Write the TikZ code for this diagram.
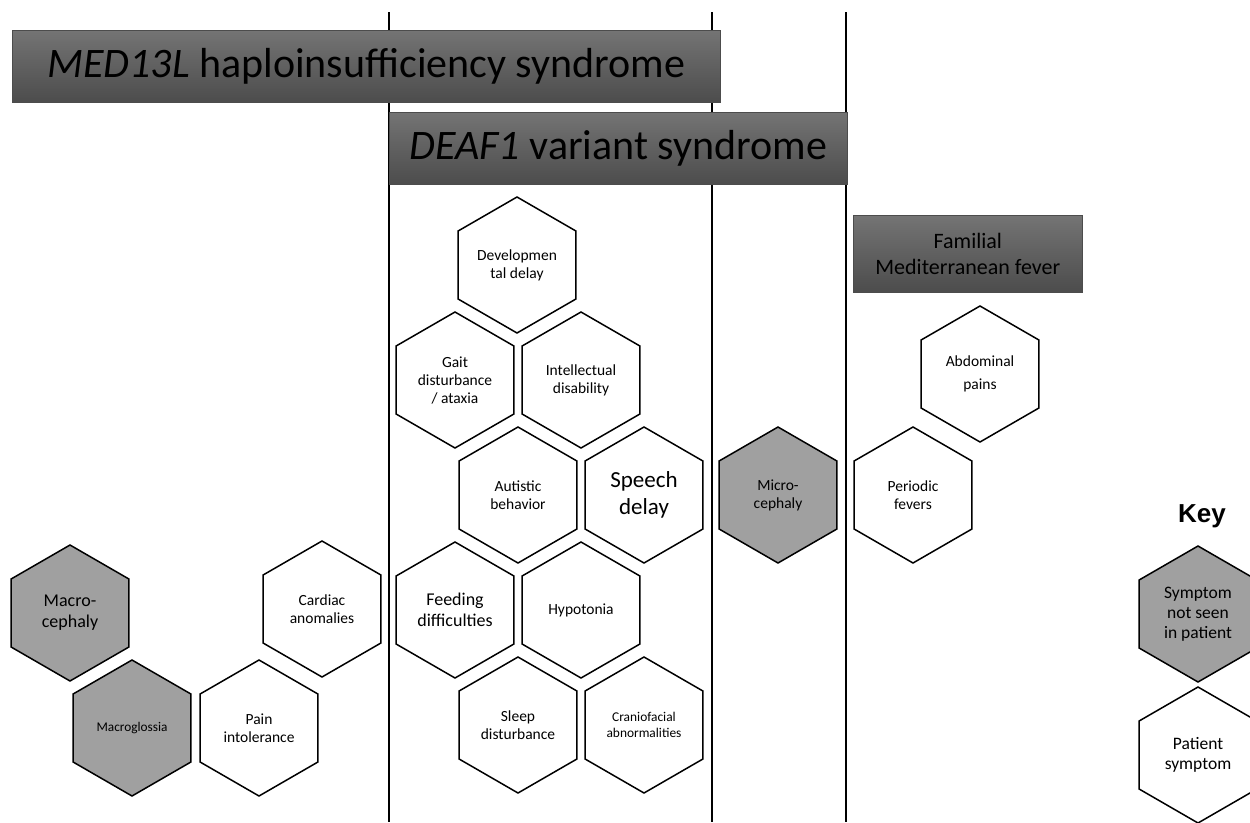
\documentclass[tikz,border=0pt]{standalone}
\usepackage{fontspec}
\setmainfont{Carlito}
\newfontfamily\keyfont{Liberation Sans}
\usetikzlibrary{shapes.geometric}
\definecolor{hexgray}{RGB}{160,160,160}
\definecolor{boxtop}{RGB}{116,116,116}
\definecolor{boxbot}{RGB}{76,76,76}
\tikzset{
  hexa/.style={draw=black, line width=1.5pt, regular polygon, regular polygon sides=6,
    regular polygon rotate=30, minimum size=136pt, inner sep=0pt, align=center,
    font=\fontsize{15.5}{18}\selectfont},
  hexgrey/.style={hexa, fill=hexgray},
  hexwhite/.style={hexa, fill=white},
  header/.style={draw=black!70, line width=0.6pt, top color=boxtop, bottom color=boxbot,
    inner sep=0pt, align=center, anchor=north west},
  divider/.style={line width=2pt, black}
}
\begin{document}
\begin{tikzpicture}[x=1pt,y=-1pt]
\useasboundingbox (0,0) rectangle (1250,822);
\fill[white] (0,0) rectangle (1250,822);
% dividers
\coordinate (d1t) at (388.5,12); \coordinate (d1b) at (388.5,822);
\coordinate (d2t) at (712,12);   \coordinate (d2b) at (712,822);
\coordinate (d3t) at (845.5,12); \coordinate (d3b) at (845.5,822);
\draw[divider] (d1t) -- (d1b);
\draw[divider] (d2t) -- (d2b);
\draw[divider] (d3t) -- (d3b);
% headers
\node[header, minimum width=708pt, minimum height=72pt, font=\fontsize{42}{48}\selectfont]
  (med) at (12,30) {\textit{MED13L} haploinsufficiency syndrome};
\node[header, minimum width=458pt, minimum height=72pt, font=\fontsize{42}{48}\selectfont]
  (deaf) at (389,112) {\textit{DEAF1} variant syndrome};
\node[header, minimum width=229pt, minimum height=77pt, font=\fontsize{22}{26}\selectfont]
  (fmf) at (853,215) {Familial\\Mediterranean fever};
% DEAF1 cluster
\node[hexwhite] (dev) at (517,265) {Developmen\\tal delay};
\node[hexwhite] (gait) at (455,380) {Gait\\disturbance\\/ ataxia};
\node[hexwhite] (intel) at (581,380) {Intellectual\\disability};
\node[hexwhite] (aut) at (518,495) {Autistic\\behavior};
\node[hexwhite, font=\fontsize{23}{27}\selectfont] (speech) at (644,495) {Speech\\delay};
\node[hexwhite, font=\fontsize{18}{21}\selectfont] (feed) at (455,610) {Feeding\\difficulties};
\node[hexwhite] (hypo) at (581,610) {Hypotonia};
\node[hexwhite] (sleep) at (518,725) {Sleep\\disturbance};
\node[hexwhite, font=\fontsize{13.4}{16}\selectfont] (cranio) at (644,725) {Craniofacial\\abnormalities};
% Microcephaly
\node[hexgrey] (micro) at (778,495) {Micro-\\cephaly};
% FMF
\node[hexwhite, font=\fontsize{15.5}{23}\selectfont] (abd) at (980,374) {Abdominal\\pains};
\node[hexwhite] (fev) at (913,495) {Periodic\\fevers};
% MED13L cluster
\node[hexgrey, font=\fontsize{18}{21}\selectfont] (macroc) at (70,613) {Macro-\\cephaly};
\node[hexgrey, font=\fontsize{13.3}{16}\selectfont] (macrog) at (132,728) {Macroglossia};
\node[hexwhite] (pain) at (259,728) {Pain\\intolerance};
\node[hexwhite] (card) at (322,609) {Cardiac\\anomalies};
% Key
\node[font=\keyfont\bfseries\fontsize{26}{30}\selectfont, inner sep=0pt] (key) at (1202,516) {Key};
\node[hexgrey, font=\fontsize{17.5}{20}\selectfont] (knot) at (1198,614) {Symptom\\not seen\\in patient};
\node[hexwhite, font=\fontsize{17.5}{20}\selectfont] (kpat) at (1198,755) {Patient\\symptom};
\end{tikzpicture}
\end{document}
